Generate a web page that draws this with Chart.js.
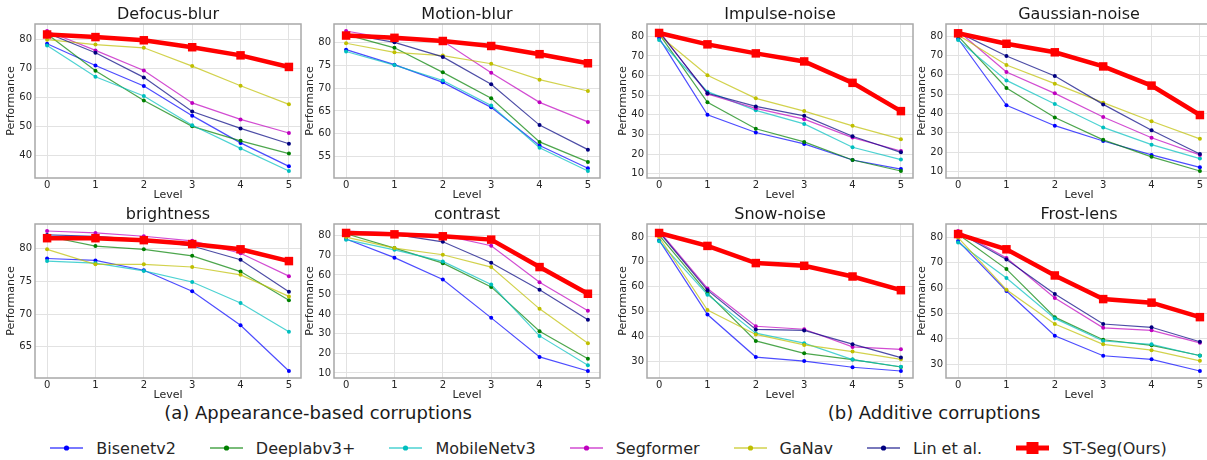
<!DOCTYPE html>
<html>
<head>
<meta charset="utf-8">
<script src="https://cdn.jsdelivr.net/npm/chart.js@4.4.1/dist/chart.umd.min.js"></script>
<style>
  html, body { margin: 0; padding: 0; background: #fff; }
  body {
    width: 1207px; height: 460px; position: relative; overflow: hidden;
    font-family: "DejaVu Sans", sans-serif;
  }
  .panel { position: absolute; }
  .caption {
    position: absolute; font-size: 18px; color: #1a1a1a;
    transform: translate(-50%, -50%); white-space: nowrap;
  }
  #legend {
    position: absolute; left: 5px; width: 1207px; top: 438px; height: 20px;
    display: flex; justify-content: center; align-items: center;
    font-size: 16px; color: #262626; gap: 34px;
  }
  #legend .item { display: flex; align-items: center; gap: 13px; white-space: nowrap; }
</style>
</head>
<body>
<div class="caption" style="left:318px; top:412px;">(a) Appearance-based corruptions</div>
<div class="caption" style="left:934px; top:412px;">(b) Additive corruptions</div>
<div id="legend"></div>

<script>
/* ---------- data ---------- */
const levels = [0, 1, 2, 3, 4, 5];
const models = ["Bisenetv2", "Deeplabv3+", "MobileNetv3", "Segformer", "GaNav", "Lin et al.", "ST-Seg(Ours)"];

// rows follow the order of `models`
const defocusBlur = [
  [78.6, 71.1, 64.0, 53.8, 44.4, 36.3],
  [82.0, 69.3, 59.0, 50.1, 45.1, 40.7],
  [78.0, 67.2, 60.6, 50.5, 42.5, 34.7],
  [83.0, 76.3, 69.4, 58.2, 52.5, 47.8],
  [80.0, 78.3, 77.2, 70.9, 64.1, 57.7],
  [82.3, 75.5, 67.0, 55.2, 49.4, 44.1],
  [81.8, 80.9, 79.8, 77.4, 74.6, 70.6]
];
const motionBlur = [
  [78.5, 75.2, 71.3, 65.8, 57.4, 52.4],
  [81.8, 78.9, 73.5, 67.8, 58.2, 53.8],
  [78.1, 75.1, 71.7, 66.2, 56.9, 51.8],
  [82.6, 80.7, 80.4, 73.4, 66.9, 62.6],
  [79.9, 77.9, 77.2, 75.4, 71.9, 69.4],
  [82.0, 80.1, 76.9, 70.9, 61.9, 56.5],
  [81.6, 81.1, 80.4, 79.3, 77.5, 75.5]
];
const impulseNoise = [
  [79.1, 40.0, 31.0, 25.2, 17.0, 12.4],
  [81.2, 46.4, 32.9, 26.2, 17.0, 11.4],
  [78.1, 51.8, 42.3, 35.4, 23.5, 17.2],
  [82.7, 50.6, 43.3, 37.8, 28.4, 21.6],
  [80.5, 60.2, 48.4, 41.9, 34.4, 27.6],
  [82.2, 51.0, 44.3, 39.5, 29.1, 20.9],
  [81.7, 75.9, 71.3, 67.2, 56.3, 41.9]
];
const gaussianNoise = [
  [78.6, 44.2, 33.7, 25.8, 18.6, 12.2],
  [80.0, 53.2, 37.9, 26.4, 17.6, 10.3],
  [77.9, 57.1, 44.9, 32.8, 23.9, 16.7],
  [82.6, 61.4, 50.4, 38.2, 27.5, 18.6],
  [80.5, 65.0, 55.4, 45.6, 36.0, 26.9],
  [81.9, 69.7, 59.4, 44.7, 31.3, 19.1],
  [81.4, 76.0, 71.6, 64.3, 54.4, 39.2]
];
const brightness = [
  [78.5, 78.2, 76.7, 73.5, 68.3, 61.3],
  [81.9, 80.4, 79.9, 78.9, 76.5, 72.1],
  [78.1, 77.8, 76.6, 74.9, 71.7, 67.3],
  [82.7, 82.4, 81.9, 81.2, 79.3, 75.8],
  [79.9, 77.6, 77.6, 77.2, 76.0, 72.7],
  [82.1, 81.9, 81.4, 80.4, 78.3, 73.4],
  [81.6, 81.6, 81.3, 80.7, 79.9, 78.1]
];
const contrast = [
  [78.3, 68.8, 57.7, 38.1, 18.2, 11.0],
  [81.0, 73.7, 66.0, 53.9, 31.3, 17.3],
  [78.0, 72.8, 66.9, 55.1, 28.9, 13.9],
  [82.4, 81.4, 80.3, 74.9, 56.3, 41.7],
  [79.3, 73.7, 70.3, 64.0, 42.7, 25.1],
  [81.9, 80.7, 76.9, 66.2, 52.4, 37.1],
  [81.4, 80.7, 79.7, 78.0, 64.0, 50.4]
];
const snowNoise = [
  [78.7, 48.8, 31.7, 30.1, 27.6, 26.1],
  [80.7, 57.4, 38.2, 33.2, 30.7, 27.7],
  [78.3, 56.8, 41.3, 37.3, 30.7, 27.8],
  [82.4, 59.3, 44.1, 42.9, 35.8, 34.8],
  [80.0, 50.6, 40.8, 36.6, 33.9, 30.8],
  [82.0, 58.6, 42.8, 42.4, 36.9, 31.5],
  [81.6, 76.4, 69.5, 68.4, 64.1, 58.6]
];
const frostLens = [
  [78.6, 58.9, 41.3, 33.4, 32.0, 27.4],
  [81.2, 67.5, 48.6, 39.7, 37.5, 33.5],
  [78.0, 64.0, 48.1, 39.2, 37.9, 33.4],
  [82.5, 71.9, 56.1, 44.4, 43.4, 38.5],
  [79.9, 59.4, 45.9, 37.9, 35.6, 31.4],
  [82.0, 71.3, 57.7, 45.9, 44.6, 38.9],
  [81.3, 75.3, 65.0, 55.7, 54.3, 48.6]
];

/* ---------- tick labels ---------- */
const defocusTicks = [40, 50, 60, 70, 80];
const motionTicks = [55, 60, 65, 70, 75, 80];
const impulseTicks = [10, 20, 30, 40, 50, 60, 70, 80];
const gaussianTicks = [10, 20, 30, 40, 50, 60, 70, 80];
const brightnessTicks = [65, 70, 75, 80];
const contrastTicks = [10, 20, 30, 40, 50, 60, 70, 80];
const snowTicks = [30, 40, 50, 60, 70, 80];
const frostTicks = [30, 40, 50, 60, 70, 80];

const panels = [
  { title: "Defocus-blur", values: defocusBlur, ticks: defocusTicks },
  { title: "Motion-blur", values: motionBlur, ticks: motionTicks },
  { title: "Impulse-noise", values: impulseNoise, ticks: impulseTicks },
  { title: "Gaussian-noise", values: gaussianNoise, ticks: gaussianTicks },
  { title: "brightness", values: brightness, ticks: brightnessTicks },
  { title: "contrast", values: contrast, ticks: contrastTicks },
  { title: "Snow-noise", values: snowNoise, ticks: snowTicks },
  { title: "Frost-lens", values: frostLens, ticks: frostTicks }
];

/* ---------- styles / layout ---------- */
const lineColors = ["rgba(0,0,255,0.7)", "rgba(0,128,0,0.7)", "rgba(0,191,191,0.7)", "rgba(191,0,191,0.7)",
                    "rgba(191,191,0,0.7)", "rgba(0,0,128,0.7)", "#ff0000"];
const markerColors = ["#0000ff", "#008000", "#00bfbf", "#bf00bf", "#bfbf00", "#000080", "#ff0000"];
const boxLeft = [35, 334, 647, 946];
const boxTop = [24, 224];
const boxW = 268, boxH = 154;
const yAxisW = 35, xAxisH = 24, titleH = 24, padRight = 4;
const txt = "#262626";
const font = "DejaVu Sans";

const frame = {
  id: "frame",
  afterDraw(chart) {
    const { ctx, chartArea: a } = chart;
    ctx.save();
    ctx.strokeStyle = "#a8a8a8";
    ctx.lineWidth = 1.5;
    ctx.strokeRect(a.left, a.top, a.right - a.left, a.bottom - a.top);
    ctx.restore();
  }
};

const xPad = 0.05 * (levels[levels.length - 1] - levels[0]);

panels.forEach((p, i) => {
  const canvas = document.createElement("canvas");
  const w = yAxisW + boxW + padRight, h = titleH + boxH + xAxisH;
  canvas.width = w; canvas.height = h;
  canvas.className = "panel";
  canvas.style.left = (boxLeft[i % 4] - yAxisW) + "px";
  canvas.style.top = (boxTop[Math.floor(i / 4)] - titleH) + "px";
  document.body.appendChild(canvas);

  const all = p.values.flat();
  const lo = Math.min(...all), hi = Math.max(...all);
  const yPad = 0.05 * (hi - lo);
  const last = models.length - 1;

  new Chart(canvas.getContext("2d"), {
    type: "line",
    data: {
      datasets: models.map((name, m) => ({
        label: name,
        data: levels.map((lv, k) => ({ x: lv, y: p.values[m][k] })),
        borderColor: lineColors[m],
        backgroundColor: markerColors[m],
        pointBackgroundColor: markerColors[m],
        pointBorderWidth: 0,
        pointRadius: m === last ? 6 : 2,
        pointStyle: m === last ? "rect" : "circle",
        borderWidth: m === last ? 4.5 : 1.2,
        tension: 0,
        order: models.length - m
      }))
    },
    options: {
      animation: false,
      responsive: false,
      layout: { padding: { right: padRight } },
      plugins: {
        legend: { display: false },
        tooltip: { enabled: false },
        title: {
          display: true, text: p.title, fullSize: false, color: "#1a1a1a",
          font: { family: font, size: 16, weight: "normal", lineHeight: 1 },
          padding: { top: 7, bottom: 1 }
        }
      },
      scales: {
        x: {
          type: "linear",
          min: levels[0] - xPad, max: levels[levels.length - 1] + xPad,
          afterBuildTicks: s => { s.ticks = levels.map(v => ({ value: v })); },
          afterFit: s => { s.height = xAxisH; },
          grid: { color: "#e2e2e2", drawTicks: false },
          border: { display: false },
          ticks: { padding: 1, color: txt, font: { family: font, size: 10 } },
          title: { display: true, text: "Level", color: txt, padding: { top: 0, bottom: 0 },
                   font: { family: font, size: 11 } }
        },
        y: {
          min: lo - yPad, max: hi + yPad,
          afterBuildTicks: s => { s.ticks = p.ticks.map(v => ({ value: v })); },
          afterFit: s => { s.width = yAxisW; },
          grid: { color: "#e2e2e2", drawTicks: false },
          border: { display: false },
          ticks: { padding: 3, color: txt, font: { family: font, size: 10 } },
          title: { display: true, text: "Performance", color: txt, padding: { top: 5, bottom: 0 },
                   font: { family: font, size: 11 } }
        }
      }
    },
    plugins: [frame]
  });
});

/* ---------- shared legend ---------- */
const legend = document.getElementById("legend");
models.forEach((name, m) => {
  const item = document.createElement("span");
  item.className = "item";
  const c = document.createElement("canvas");
  c.width = 33; c.height = 14;
  const g = c.getContext("2d");
  const big = m === models.length - 1;
  g.strokeStyle = lineColors[m];
  g.lineWidth = big ? 5 : 1.5;
  g.beginPath(); g.moveTo(0, 7); g.lineTo(33, 7); g.stroke();
  g.fillStyle = markerColors[m];
  if (big) g.fillRect(16.5 - 6, 1, 12, 12);
  else { g.beginPath(); g.arc(16.5, 7, 2.6, 0, Math.PI * 2); g.fill(); }
  const label = document.createElement("span");
  label.textContent = name;
  item.appendChild(c);
  item.appendChild(label);
  legend.appendChild(item);
});
</script>
</body>
</html>
